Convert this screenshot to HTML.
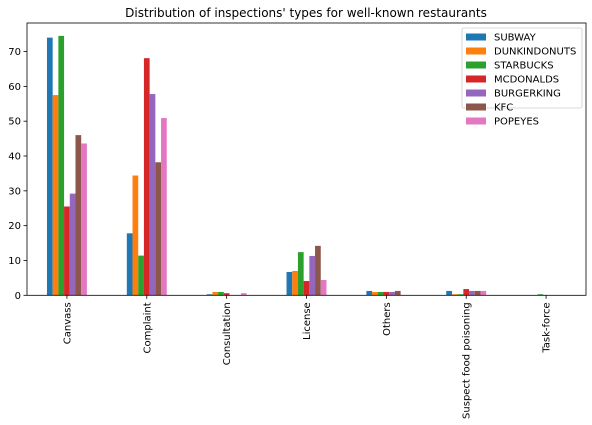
<!DOCTYPE html>
<html><head><meta charset="utf-8"><style>
body{margin:0;background:#fff;}
svg{display:block;font-family:"DejaVu Sans","Liberation Sans",sans-serif;}
</style></head><body>
<svg id="chart" width="592" height="425">
<text x="306" y="17" text-anchor="middle" font-size="12" fill="#000">Distribution of inspections' types for well-known restaurants</text>
<g id="plot"></g>
</svg>
<script>
const categories=["Canvass","Complaint","Consultation","License","Others","Suspect food poisoning","Task-force"];
const seriesNames=["SUBWAY","DUNKINDONUTS","STARBUCKS","MCDONALDS","BURGERKING","KFC","POPEYES"];
const subway=[74,17.8,0.3,6.7,1.25,1.25,0];
const dunkin=[57.5,34.4,0.96,7.0,0.96,0.3,0];
const starbucks=[74.5,11.4,0.96,12.4,0.96,0.3,0.3];
const mcdonalds=[25.5,68.1,0.6,4.1,0.96,1.8,0];
const burgerking=[29.2,57.8,0,11.3,0.96,1.25,0];
const kfc=[46,38.2,0,14.2,1.25,1.25,0];
const popeyes=[43.6,50.9,0.6,4.4,0,1.25,0];
const yTicks=[0,10,20,30,40,50,60,70];
const series=[subway,dunkin,starbucks,mcdonalds,burgerking,kfc,popeyes];
const colors=["#1f77b4","#ff7f0e","#2ca02c","#d62728","#9467bd","#8c564b","#e377c2"];
const L=27,R=586,T=23,B=295.3,YMAX=78.2;
const NS="http://www.w3.org/2000/svg";
const g=document.getElementById('plot');
function y(v){return B-(v/YMAX)*(B-T);}
const band=(R-L)/categories.length;
function xc(i){return L+band*(i+0.5);}
const bw=band*0.5/series.length;
function mk(t,a){const e=document.createElementNS(NS,t);for(const k in a)e.setAttribute(k,a[k]);g.appendChild(e);return e;}
series.forEach((s,si)=>{s.forEach((v,ci)=>{
  const x0=xc(ci)-band*0.25+si*bw;
  const r=mk('rect',{x:x0,y:y(v),width:bw,height:B-y(v),fill:colors[si]});
  
  
});});
const frame=mk('rect',{x:L,y:T,width:R-L,height:B-T,fill:'none',stroke:'#000','stroke-width':0.8});


yTicks.forEach(t=>{
  const l=mk('line',{x1:L-3.5,x2:L,y1:y(t),y2:y(t),stroke:'#000','stroke-width':0.8});
  
  
  const tx=mk('text',{x:L-6,y:y(t)+3.5,'text-anchor':'end','font-size':10,fill:'#000'});
  tx.textContent=t;
  
  
});
categories.forEach((c,i)=>{
  const x=xc(i);
  const l=mk('line',{x1:x,x2:x,y1:B,y2:B+3.5,stroke:'#000','stroke-width':0.8});
  
  
  const tx=mk('text',{x:0,y:0,'text-anchor':'end','font-size':10,fill:'#000',transform:`translate(${x+3.5},${B+7}) rotate(-90)`});
  tx.textContent=c;
  
  
});
const lg=mk('rect',{x:462,y:28,width:120,height:80,fill:'#fff',stroke:'#ccc','stroke-width':0.8,rx:2});


seriesNames.forEach((n,i)=>{
  const yy=37+i*14;
  const p=mk('rect',{x:466,y:yy-3.5,width:20,height:7,fill:colors[i]});
  
  
  const t=mk('text',{x:494,y:yy+3.5,'font-size':10,fill:'#000'});
  t.textContent=n;
  
  
});
</script>
</body></html>
